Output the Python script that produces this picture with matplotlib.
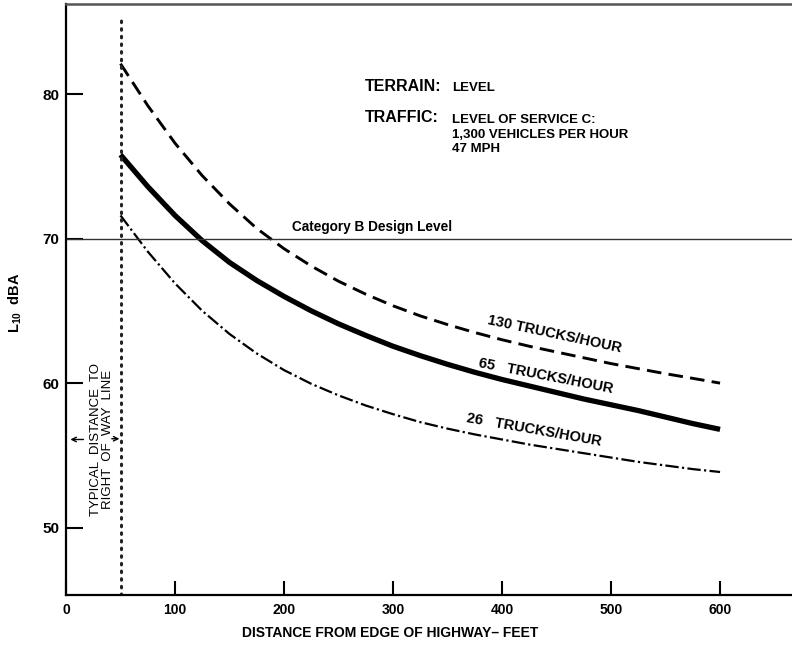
import matplotlib.pyplot as plt

# ================= DATA =================
distance_ft = [50, 75, 100, 125, 150, 175, 200, 225, 250, 275, 300, 325,
               350, 375, 400, 425, 450, 475, 500, 525, 550, 575, 600]
trucks_130 = [82.1, 79.2, 76.6, 74.35, 72.4, 70.7, 69.3, 68.1, 67.05, 66.15, 65.35, 64.65,
              64.05, 63.5, 63.0, 62.55, 62.15, 61.75, 61.35, 61.0, 60.65, 60.33, 60.0]
trucks_65 = [75.8, 73.6, 71.6, 69.85, 68.35, 67.1, 66.0, 65.0, 64.1, 63.3, 62.55, 61.9,
             61.3, 60.75, 60.25, 59.8, 59.35, 58.9, 58.5, 58.1, 57.65, 57.2, 56.8]
trucks_26 = [71.6, 69.1, 66.9, 65.0, 63.4, 62.05, 60.9, 59.95, 59.15, 58.45, 57.85, 57.3,
             56.85, 56.45, 56.1, 55.75, 55.45, 55.15, 54.85, 54.55, 54.3, 54.05, 53.85]

x_ticks = [0, 100, 200, 300, 400, 500, 600]
y_ticks = [50, 60, 70, 80]
design_level = 70
row_distance = 50
# ========================================

plt.rcParams['font.family'] = ['Liberation Sans', 'DejaVu Sans']
plt.rcParams['font.weight'] = 'bold'
plt.rcParams['mathtext.fontset'] = 'custom'
plt.rcParams['mathtext.rm'] = 'Liberation Sans:bold'
plt.rcParams['mathtext.it'] = 'Liberation Sans:bold'
plt.rcParams['mathtext.bf'] = 'Liberation Sans:bold'

fig = plt.figure(figsize=(7.92, 6.47), dpi=100)
ax = fig.add_axes([66 / 792, 52 / 647, 726 / 792, 591 / 647])

ax.plot(distance_ft, trucks_130, color='black', lw=2.1, linestyle=(0, (5, 2.5)))
ax.plot(distance_ft, trucks_65, color='black', lw=3.8, solid_capstyle='butt')
ax.plot(distance_ft, trucks_26, color='black', lw=1.6, linestyle=(0, (6, 1.5, 1, 1.5)))

# design level and right-of-way line
ax.axhline(design_level, color='#333333', lw=1.0)
ax.axvline(row_distance, ymin=0, ymax=0.976, color='#222222', lw=2.2,
           linestyle=(0, (0.5, 2.0)), dash_capstyle='round')

ax.set_xlim(0, 666)
ax.set_ylim(45.34, 86.23)
ax.set_xticks(x_ticks)
ax.set_yticks(y_ticks)
ax.tick_params(axis='x', direction='in', length=10, width=1.5, labelsize=10, pad=6)
ax.tick_params(axis='y', direction='in', length=12, width=1.5, labelsize=11, pad=5)
for lab in ax.get_xticklabels() + ax.get_yticklabels():
    lab.set_fontweight('bold')

ax.spines['right'].set_visible(False)
ax.spines['left'].set_linewidth(1.6)
ax.spines['bottom'].set_linewidth(1.6)
ax.spines['top'].set_linewidth(1.8)
ax.spines['top'].set_color('#555555')

fig.text(390 / 792, 1 - 633 / 647, 'DISTANCE FROM EDGE OF HIGHWAY\u2013 FEET',
         fontsize=10, fontweight='bold', ha='center', va='center')
fig.text(15 / 792, 1 - 303 / 647, 'L$_{10}$  dBA', fontsize=10.5, fontweight='bold',
         rotation=90, ha='center', va='center')

# annotations
ax.text(274, 80.5, 'TERRAIN:', fontsize=11.5, fontweight='bold', va='center')
ax.text(354, 80.4, 'LEVEL', fontsize=9.5, fontweight='bold', va='center')
ax.text(274, 78.35, 'TRAFFIC:', fontsize=11.5, fontweight='bold', va='center')
ax.text(354, 78.2, 'LEVEL OF SERVICE C:', fontsize=9.5, fontweight='bold', va='center')
ax.text(354, 77.17, '1,300 VEHICLES PER HOUR', fontsize=9.5, fontweight='bold', va='center')
ax.text(354, 76.2, '47 MPH', fontsize=9.5, fontweight='bold', va='center')

ax.text(207, 70.3, 'Category B Design Level', fontsize=9.8, fontweight='bold', va='bottom')

ax.text(448, 63.35, '130 TRUCKS/HOUR', fontsize=10.5, fontweight='bold', rotation=-12,
        va='center', ha='center')
ax.text(440, 60.5, '65   TRUCKS/HOUR', fontsize=10.5, fontweight='bold', rotation=-11,
        va='center', ha='center')
ax.text(429, 56.75, '26   TRUCKS/HOUR', fontsize=10.5, fontweight='bold', rotation=-10,
        va='center', ha='center')

ax.text(33, 56.1, 'TYPICAL  DISTANCE  TO\nRIGHT  OF  WAY  LINE', fontsize=9.5,
        fontweight='normal', rotation=90, va='center', ha='center', linespacing=0.95)
ax.annotate('', xy=(4, 56.1), xytext=(16, 56.1),
            arrowprops=dict(arrowstyle='->', color='black', lw=1.0, mutation_scale=8,
                            shrinkA=0, shrinkB=0))
ax.annotate('', xy=(49, 56.15), xytext=(42, 56.15),
            arrowprops=dict(arrowstyle='->', color='black', lw=1.0, mutation_scale=8,
                            shrinkA=0, shrinkB=0))

fig.savefig('out.png', dpi=100)
